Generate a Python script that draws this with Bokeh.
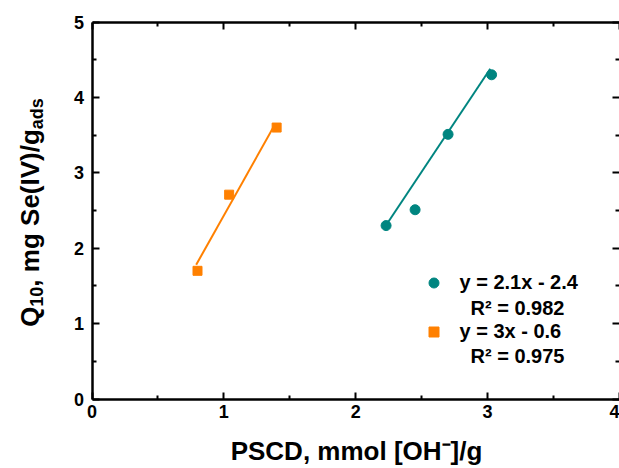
import numpy as np
from bokeh.plotting import figure
from bokeh.models import (Range1d, LinearAxis, FixedTicker, Label, Legend,
                          LegendItem, CustomLabelingPolicy)
from bokeh.embed import file_html
from bokeh.resources import INLINE

# ---------------- data ----------------
teal_x = [2.23, 2.45, 2.70, 3.03]
teal_y = [2.30, 2.51, 3.51, 4.30]
teal_fit_x = [2.24, 3.02]
teal_fit_y = [2.33, 4.38]

orange_x = [0.80, 1.04, 1.40]
orange_y = [1.70, 2.71, 3.60]
orange_fit_x = [0.79, 1.39]
orange_fit_y = [1.78, 3.65]

teal_eq = ["y = 2.1x - 2.4", "R\u00b2 = 0.982"]
orange_eq = ["y = 3x - 0.6", "R\u00b2 = 0.975"]

x_title = "PSCD, mmol [OH\u207b]/g"
y_title_parts = ["Q", "10", ", mg Se(IV)/g", "ads"]

x_ticks = [0, 1, 2, 3, 4]
x_minor = [0.5, 1.5, 2.5, 3.5]
y_ticks = [0, 1, 2, 3, 4, 5]
y_minor = [0.5, 1.5, 2.5, 3.5, 4.5]

X_MIN, X_MAX = 0, 4
Y_MIN, Y_MAX = 0, 5

TEAL = "#008580"
ORANGE = "#ff8000"
FONT = "Liberation Sans"

# ---------------- layout (page pixels) ----------------
W, H = 619, 468
AX_LEFT_PX, AX_RIGHT_PX = 91.5, 619.0      # x = 0 and x = 4
AX_TOP_PX, AX_BOTTOM_PX = 21.5, 398.5      # y = 5 and y = 0
PPX = (AX_RIGHT_PX - AX_LEFT_PX) / (X_MAX - X_MIN)
PPY = (AX_BOTTOM_PX - AX_TOP_PX) / (Y_MAX - Y_MIN)


def dx(px):
    return X_MIN + (px - AX_LEFT_PX) / PPX


def dy(py):
    return Y_MIN + (AX_BOTTOM_PX - py) / PPY


p = figure(width=W, height=H,
           x_range=Range1d(dx(0), dx(W)), y_range=Range1d(dy(H), dy(0)),
           output_backend="svg", toolbar_location=None,
           x_axis_type=None, y_axis_type=None,
           min_border_left=0, min_border_right=0,
           min_border_top=0, min_border_bottom=0)
p.outline_line_color = None
p.xgrid.visible = False
p.ygrid.visible = False
p.background_fill_color = "white"
p.border_fill_color = "white"

HIDE = CustomLabelingPolicy(code="for (const i of indices) indices.unset(i)")


def make_axis(ticks, minor, loc, bounds, labels=True, line=True):
    ax = LinearAxis(ticker=FixedTicker(ticks=ticks, minor_ticks=minor),
                    fixed_location=loc, bounds=bounds)
    ax.axis_line_width = 2.5
    ax.axis_line_color = "black" if line else None
    ax.major_tick_in = 7
    ax.major_tick_out = 0
    ax.minor_tick_in = 4
    ax.minor_tick_out = 0
    ax.major_tick_line_width = 2
    ax.minor_tick_line_width = 2
    ax.major_tick_line_color = "black"
    ax.minor_tick_line_color = "black"
    ax.major_label_text_font = FONT
    ax.major_label_text_font_style = "bold"
    ax.major_label_text_color = "black"
    ax.major_label_text_font_size = "18px"
    if not labels:
        ax.major_label_policy = HIDE
    return ax


ax_b = make_axis(x_ticks, x_minor, Y_MIN, (X_MIN, X_MAX))
ax_b.major_label_standoff = 6
ax_l = make_axis(y_ticks, y_minor, X_MIN, (Y_MIN, Y_MAX))
ax_l.major_label_standoff = 8
ax_t = make_axis(x_ticks, x_minor, Y_MAX, (X_MIN, X_MAX), labels=False)
ax_r = make_axis(y_ticks, y_minor, X_MAX, (Y_MIN, Y_MAX), labels=False, line=False)
p.add_layout(ax_b, "below")
p.add_layout(ax_l, "left")
p.add_layout(ax_t, "above")
p.add_layout(ax_r, "right")

# fit lines
p.line(orange_fit_x, orange_fit_y, line_color=ORANGE, line_width=2)
p.line(teal_fit_x, teal_fit_y, line_color=TEAL, line_width=2)

# points
r_teal = p.scatter(teal_x, teal_y, marker="circle", size=10,
                   fill_color=TEAL, line_color=TEAL)
r_orange = p.scatter(orange_x, orange_y, marker="square", size=9,
                     fill_color=ORANGE, line_color=ORANGE)

# legend (marker + equation), R^2 lines as labels below each entry
GLYPH = 25
legend = Legend(items=[LegendItem(label=teal_eq[0], renderers=[r_teal]),
                       LegendItem(label=orange_eq[0], renderers=[r_orange])],
                location=(433 - GLYPH / 2, H - (282 - GLYPH / 2) - (2 * GLYPH + 24)),
                glyph_width=GLYPH, glyph_height=GLYPH, spacing=24,
                padding=0, margin=0, label_standoff=14,
                border_line_color=None, background_fill_color=None,
                label_text_font=FONT, label_text_font_style="bold",
                label_text_font_size="20px", label_text_color="black")
p.add_layout(legend)

for txt, (cx, cy) in zip([teal_eq[1], orange_eq[1]], [(517, 307), (517, 355)]):
    p.add_layout(Label(x=dx(cx), y=dy(cy), text=txt, text_align="center",
                       text_baseline="middle", text_font=FONT,
                       text_font_style="bold", text_font_size="20px",
                       text_color="black"))

# x title
p.add_layout(Label(x=dx(356), y=dy(450.5), text=x_title,
                   text_align="center", text_baseline="middle",
                   text_font=FONT, text_font_style="bold",
                   text_font_size="26px", text_color="black"))

# y title (composite, rotated; anchors are the middles of each piece)
sizes = [26, 18, 26, 18]
widths = [0.778 * 26, 2 * 0.556 * 18, 6.057 * 26, 1.723 * 18]
mid_x = [29, 36, 29, 36]
total = sum(widths)
ypos = (AX_TOP_PX + AX_BOTTOM_PX) / 2 + 2 + total / 2
for txt, fs, w, mx in zip(y_title_parts, sizes, widths, mid_x):
    p.add_layout(Label(x=dx(mx), y=dy(ypos), text=txt, angle=np.pi / 2,
                       text_align="left", text_baseline="middle",
                       text_font=FONT, text_font_style="bold",
                       text_font_size=f"{fs}px", text_color="black"))
    ypos -= w

open("out.html", "w").write(file_html(p, INLINE))
